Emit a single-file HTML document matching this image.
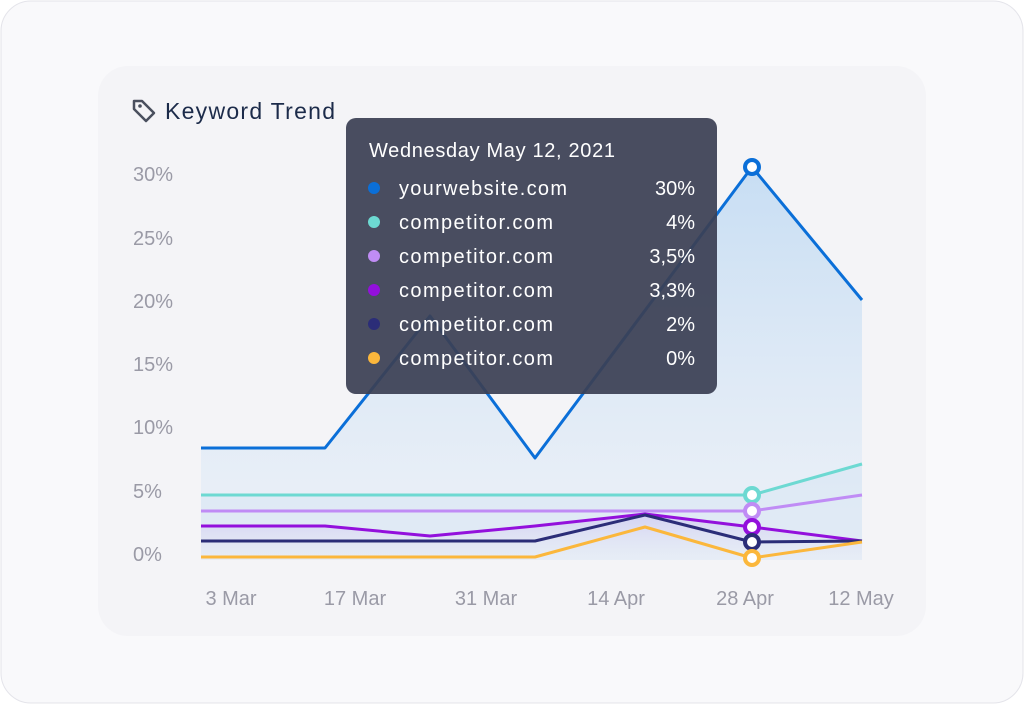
<!DOCTYPE html>
<html><head><style>
body{margin:0;width:1024px;height:704px;background:#fff;font-family:"Liberation Sans",sans-serif;overflow:hidden}
</style></head><body>
<svg width="1024" height="704" xmlns="http://www.w3.org/2000/svg" font-family="Liberation Sans, sans-serif">
<defs>
<linearGradient id="gb" x1="0" y1="0" x2="0" y2="1"><stop offset="0" stop-color="#bcd8f2" stop-opacity="0.8"/><stop offset="1" stop-color="#e6eef8" stop-opacity="0.5"/></linearGradient>
<linearGradient id="gp" x1="0" y1="0" x2="0" y2="1"><stop offset="0" stop-color="#c9c0f0" stop-opacity="0.6"/><stop offset="1" stop-color="#f4f4f7" stop-opacity="0.3"/></linearGradient>
</defs>
<rect x="1" y="1" width="1022" height="702" rx="30" fill="#f9f9fb" stroke="#e4e4ea"/>
<rect x="98" y="66" width="828" height="570" rx="30" fill="#f4f4f7"/>
<path d="M201,448 L325,448 L430,316 L535,458 L752,167 L862,300 L862,560 L201,560Z" fill="url(#gb)"/>
<path d="M201,495 L752,495 L862,464 L862,560 L201,560Z" fill="#d9e6f3" opacity="0.6"/>
<path d="M201,526 L325,526 L430,536 L535,526 L645,514 L752,527 L862,541 L862,560 L201,560Z" fill="url(#gp)"/>
<g fill="none" stroke-width="3" stroke-linejoin="round">
<polyline points="201,448 325,448 430,316 535,458 752,167 862,300" stroke="#0b6fd8"/>
<polyline points="201,495 752,495 862,464" stroke="#6dd9d2"/>
<polyline points="201,511 752,511 862,495" stroke="#c08cf5"/>
<polyline points="201,526 325,526 430,536 535,526 645,514 752,527 862,541" stroke="#9310dc"/>
<polyline points="201,541 535,541 645,515 752,542 862,541" stroke="#2b2d78"/>
<polyline points="201,557 535,557 645,527 752,558 862,542" stroke="#fbb73c"/>
</g>
<g fill="#fff" stroke-width="4">
<circle cx="752" cy="167" r="7" stroke="#0b6fd8"/>
<circle cx="752" cy="495" r="7" stroke="#6dd9d2"/>
<circle cx="752" cy="511" r="7" stroke="#c08cf5"/>
<circle cx="752" cy="527" r="7" stroke="#9310dc"/>
<circle cx="752" cy="542" r="7" stroke="#2b2d78"/>
<circle cx="752" cy="558" r="7" stroke="#fbb73c"/>
</g>
<g fill="#9a9aa6" font-size="20">
<text x="133" y="181">30%</text><text x="133" y="245">25%</text><text x="133" y="308">20%</text>
<text x="133" y="371">15%</text><text x="133" y="434">10%</text><text x="133" y="498">5%</text><text x="133" y="561">0%</text>
<g text-anchor="middle"><text x="231" y="605">3 Mar</text><text x="355" y="605">17 Mar</text><text x="486" y="605">31 Mar</text><text x="616" y="605">14 Apr</text><text x="745" y="605">28 Apr</text><text x="861" y="605">12 May</text></g>
</g>
<path d="M134,101 L142,101 L154,113 L146,121 L134,109Z" fill="none" stroke="#4a4f5e" stroke-width="2.5" stroke-linejoin="round"/>
<circle cx="140" cy="106" r="1.8" fill="#4a4f5e"/>
<text x="165" y="119" font-size="23" fill="#1c2b4a" textLength="170">Keyword Trend</text>
<rect x="346" y="118" width="371" height="276" rx="10" fill="#3b4054" opacity="0.93"/>
<g fill="#fff" font-size="20">
<text x="369" y="157" textLength="246">Wednesday May 12, 2021</text>
<text x="399" y="195" textLength="168">yourwebsite.com</text><text x="399" y="229" textLength="154">competitor.com</text><text x="399" y="263" textLength="154">competitor.com</text>
<text x="399" y="297" textLength="154">competitor.com</text><text x="399" y="331" textLength="154">competitor.com</text><text x="399" y="365" textLength="154">competitor.com</text>
<g text-anchor="end"><text x="695" y="195">30%</text><text x="695" y="229">4%</text><text x="695" y="263">3,5%</text><text x="695" y="297">3,3%</text><text x="695" y="331">2%</text><text x="695" y="365">0%</text></g>
</g>
<circle cx="374" cy="188" r="6" fill="#0b6fd8"/><circle cx="374" cy="222" r="6" fill="#6dd9d2"/>
<circle cx="374" cy="256" r="6" fill="#c08cf5"/><circle cx="374" cy="290" r="6" fill="#9310dc"/>
<circle cx="374" cy="324" r="6" fill="#2b2d78"/><circle cx="374" cy="358" r="6" fill="#fbb73c"/>
</svg>
</body></html>
